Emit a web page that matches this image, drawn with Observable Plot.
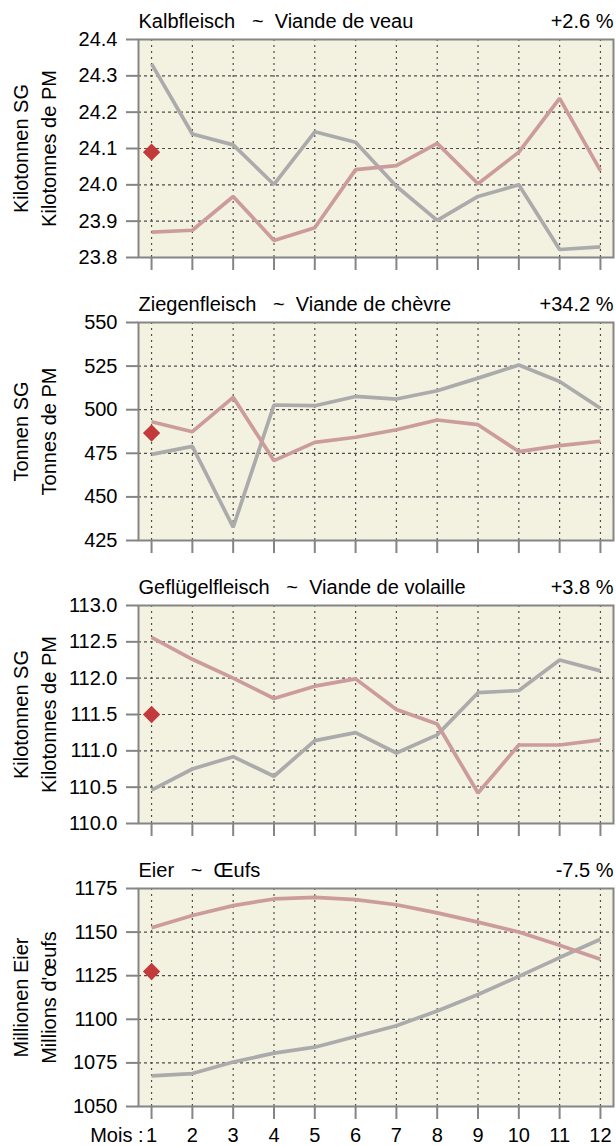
<!DOCTYPE html>
<html>
<head>
<meta charset="utf-8">
<script src="https://cdn.jsdelivr.net/npm/d3@7"></script>
<script src="https://cdn.jsdelivr.net/npm/@observablehq/plot@0.6"></script>
<style>
  html, body { margin: 0; padding: 0; background: #fff; }
  #chart svg { display: block; }
</style>
</head>
<body>
<div id="chart"></div>
<script>
// ---- Data ----
const months = [1, 2, 3, 4, 5, 6, 7, 8, 9, 10, 11, 12];

const vealTitle = "Kalbfleisch\u00a0\u00a0\u00a0~\u00a0\u00a0Viande de veau";
const vealChange = "+2.6 %";
const vealUnit = ["Kilotonnen SG", "Kilotonnes de PM"];
const vealTicks = [23.8, 23.9, 24.0, 24.1, 24.2, 24.3, 24.4];
const vealPrev = [24.333, 24.140, 24.110, 24.001, 24.146, 24.117, 23.996, 23.902, 23.968, 24.000, 23.822, 23.829];
const vealCurr = [23.870, 23.875, 23.968, 23.847, 23.882, 24.042, 24.053, 24.114, 24.003, 24.090, 24.238, 24.039];
const vealMark = 24.09;

const goatTitle = "Ziegenfleisch\u00a0\u00a0\u00a0~\u00a0\u00a0Viande de chèvre";
const goatChange = "+34.2 %";
const goatUnit = ["Tonnen SG", "Tonnes de PM"];
const goatTicks = [425, 450, 475, 500, 525, 550];
const goatPrev = [474.4, 479.0, 432.6, 502.7, 502.3, 507.6, 506.1, 510.9, 518.1, 525.6, 516.2, 500.8];
const goatCurr = [493.1, 487.4, 507.1, 470.8, 481.3, 484.2, 488.5, 494.1, 491.4, 476.0, 479.4, 481.9];
const goatMark = 486.6;

const poultryTitle = "Geflügelfleisch\u00a0\u00a0\u00a0~\u00a0\u00a0Viande de volaille";
const poultryChange = "+3.8 %";
const poultryUnit = ["Kilotonnen SG", "Kilotonnes de PM"];
const poultryTicks = [110.0, 110.5, 111.0, 111.5, 112.0, 112.5, 113.0];
const poultryPrev = [110.46, 110.75, 110.92, 110.65, 111.14, 111.25, 110.97, 111.22, 111.80, 111.83, 112.25, 112.10];
const poultryCurr = [112.56, 112.26, 112.00, 111.72, 111.89, 111.99, 111.57, 111.37, 110.42, 111.08, 111.08, 111.15];
const poultryMark = 111.50;

const eggTitle = "Eier\u00a0\u00a0\u00a0~\u00a0\u00a0Œufs";
const eggChange = "-7.5 %";
const eggUnit = ["Millionen Eier", "Millions d'œufs"];
const eggTicks = [1050, 1075, 1100, 1125, 1150, 1175];
const eggPrev = [1067.6, 1068.9, 1075.5, 1080.6, 1084.0, 1090.1, 1096.3, 1104.8, 1114.2, 1124.6, 1135.4, 1145.9];
const eggCurr = [1152.5, 1159.5, 1165.2, 1169.0, 1169.9, 1168.6, 1165.7, 1161.0, 1155.7, 1150.1, 1142.5, 1134.4];
const eggMark = 1127.4;

const monthAxisLabel = "Mois :";

// ---- Styles ----
const FONT = "'Liberation Sans', Arial, sans-serif";
const BG = "#f3f2e1";
const FRAME = "#858585";
const GRID = "#4d4d4d";
const PREV_COLOR = "#ababab";
const CURR_COLOR = "#cc9c9c";
const MARK_COLOR = "#c23a3c";

function panel({title, change, unit, ticks, fmt, prev, curr, mark, last}) {
  const rowsPrev = months.map((m, i) => ({m, v: prev[i]}));
  const rowsCurr = months.map((m, i) => ({m, v: curr[i]}));
  const marks = [
    Plot.frame({fill: BG, stroke: null}),
    Plot.gridX(months, {stroke: GRID, strokeOpacity: 1, strokeWidth: 1.2, strokeDasharray: "2,4"}),
    Plot.gridY(ticks, {stroke: GRID, strokeOpacity: 1, strokeWidth: 1.2, strokeDasharray: "3,3"}),
    Plot.line(rowsPrev, {x: "m", y: "v", stroke: PREV_COLOR, strokeWidth: 3.7, strokeLinejoin: "miter", strokeLinecap: "butt"}),
    Plot.line(rowsCurr, {x: "m", y: "v", stroke: CURR_COLOR, strokeWidth: 3.7, strokeLinejoin: "miter", strokeLinecap: "butt"}),
    Plot.dot([{m: months[0], v: mark}], {x: "m", y: "v", symbol: "diamond2", r: 7.8, fill: MARK_COLOR, stroke: null}),
    Plot.frame({stroke: FRAME, strokeWidth: 2}),
    Plot.axisY({ticks, tickSize: 12, tickPadding: 9, tickFormat: fmt, fontSize: 20, stroke: FRAME, strokeWidth: 2, label: null}),
    Plot.axisX({ticks: months, tickSize: 13, tickPadding: 8, fontSize: 20, stroke: FRAME, strokeWidth: 2, label: null,
      tickFormat: last ? (d => String(d)) : (() => "")}),
    Plot.text([title], {frameAnchor: "top-left", textAnchor: "start", lineAnchor: "bottom", dy: -12, fontSize: 20}),
    Plot.text([change], {frameAnchor: "top-right", textAnchor: "end", lineAnchor: "bottom", dy: -12, dx: 0, fontSize: 20}),
    Plot.text([unit.join("\n")], {frameAnchor: "left", rotate: -90, textAnchor: "middle", lineAnchor: "middle", lineHeight: 1.4, dx: -105, fontSize: 20})
  ];
  if (last) {
    marks.push(Plot.text([{m: months[0], t: monthAxisLabel}], {x: "m", text: "t", frameAnchor: "bottom", textAnchor: "end", lineAnchor: "top", dy: 21, dx: -8, fontSize: 20}));
  }
  return Plot.plot({
    width: 616,
    height: last ? 297 : 283,
    marginLeft: 138,
    marginRight: 3,
    marginTop: 39,
    marginBottom: last ? 40 : 26,
    style: {fontFamily: FONT, fontSize: "20px", background: "#fff", color: "#000", overflow: "visible"},
    x: {domain: [0.68, 12.32], label: null},
    y: {domain: [ticks[0], ticks[ticks.length - 1]], label: null},
    marks
  });
}

const el = document.getElementById("chart");
el.append(panel({title: vealTitle, change: vealChange, unit: vealUnit, ticks: vealTicks, fmt: d3.format(".1f"), prev: vealPrev, curr: vealCurr, mark: vealMark}));
el.append(panel({title: goatTitle, change: goatChange, unit: goatUnit, ticks: goatTicks, fmt: d3.format("d"), prev: goatPrev, curr: goatCurr, mark: goatMark}));
el.append(panel({title: poultryTitle, change: poultryChange, unit: poultryUnit, ticks: poultryTicks, fmt: d3.format(".1f"), prev: poultryPrev, curr: poultryCurr, mark: poultryMark}));
el.append(panel({title: eggTitle, change: eggChange, unit: eggUnit, ticks: eggTicks, fmt: d3.format("d"), prev: eggPrev, curr: eggCurr, mark: eggMark, last: true}));
</script>
</body>
</html>
